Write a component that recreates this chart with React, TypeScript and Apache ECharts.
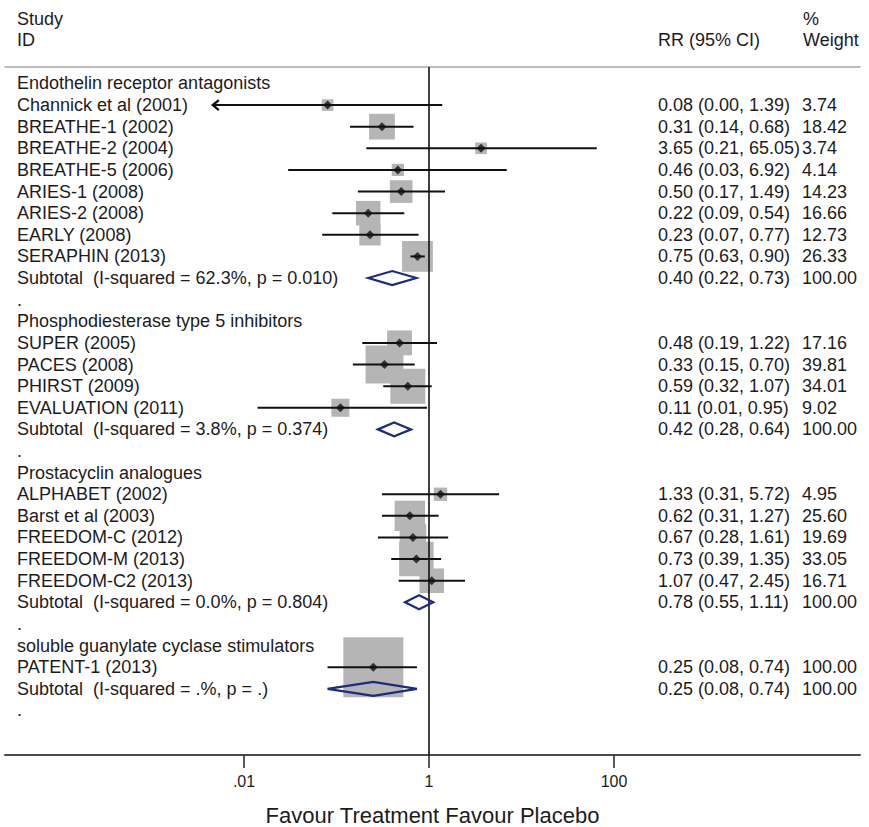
import React, { useEffect, useRef } from 'react';
import * as echarts from 'echarts';

// ---------- data ----------
const groupNames = [
  'Endothelin receptor antagonists',
  'Phosphodiesterase type 5 inhibitors',
  'Prostacyclin analogues',
  'soluble guanylate cyclase stimulators',
];

const studyNames = [
  'Channick et al (2001)', 'BREATHE-1 (2002)', 'BREATHE-2 (2004)', 'BREATHE-5 (2006)',
  'ARIES-1 (2008)', 'ARIES-2 (2008)', 'EARLY (2008)', 'SERAPHIN (2013)',
  'SUPER (2005)', 'PACES (2008)', 'PHIRST (2009)', 'EVALUATION (2011)',
  'ALPHABET (2002)', 'Barst et al (2003)', 'FREEDOM-C (2012)', 'FREEDOM-M (2013)', 'FREEDOM-C2 (2013)',
  'PATENT-1 (2013)',
];
const studyGroup = [0, 0, 0, 0, 0, 0, 0, 0, 1, 1, 1, 1, 2, 2, 2, 2, 2, 3];
const studyRR = [0.08, 0.31, 3.65, 0.46, 0.50, 0.22, 0.23, 0.75, 0.48, 0.33, 0.59, 0.11, 1.33, 0.62, 0.67, 0.73, 1.07, 0.25];
const studyLow = [0.0046, 0.14, 0.21, 0.03, 0.17, 0.09, 0.07, 0.63, 0.19, 0.15, 0.32, 0.014, 0.31, 0.31, 0.28, 0.39, 0.47, 0.08];
const studyHigh = [1.39, 0.68, 65.05, 6.92, 1.49, 0.54, 0.77, 0.90, 1.22, 0.70, 1.07, 0.95, 5.72, 1.27, 1.61, 1.35, 2.45, 0.74];
const studyWeight = [3.74, 18.42, 3.74, 4.14, 14.23, 16.66, 12.73, 26.33, 17.16, 39.81, 34.01, 9.02, 4.95, 25.60, 19.69, 33.05, 16.71, 100.00];

const subtotalLabels = [
  'Subtotal  (I-squared = 62.3%, p = 0.010)',
  'Subtotal  (I-squared = 3.8%, p = 0.374)',
  'Subtotal  (I-squared = 0.0%, p = 0.804)',
  'Subtotal  (I-squared = .%, p = .)',
];
const subRR = [0.40, 0.42, 0.78, 0.25];
const subLow = [0.22, 0.28, 0.55, 0.08];
const subHigh = [0.73, 0.64, 1.11, 0.74];
const subWeight = [100.0, 100.0, 100.0, 100.0];

const tickValues = [0.01, 1, 100];
const tickLabels = ['.01', '1', '100'];
const axisTitle = 'Favour Treatment Favour Placebo';

// ---------- layout / style ----------
const W = 869;
const H = 827;
const FONT = '"Liberation Sans", Arial, sans-serif';
const TEXT = '#1c1c1c';
const X_MIN = Math.pow(10, -4.584);
const X_MAX = Math.pow(10, 4.659);
const Y_MIN = -0.76;
const Y_MAX = 31.06;

type Row = { kind: 'header' | 'study' | 'subtotal' | 'blank'; label: string; rr?: number; lo?: number; hi?: number; w?: number };

function buildRows(): Row[] {
  const rows: Row[] = [];
  groupNames.forEach((g, gi) => {
    rows.push({ kind: 'header', label: g });
    studyNames.forEach((s, si) => {
      if (studyGroup[si] === gi) {
        rows.push({ kind: 'study', label: s, rr: studyRR[si], lo: studyLow[si], hi: studyHigh[si], w: studyWeight[si] });
      }
    });
    rows.push({ kind: 'subtotal', label: subtotalLabels[gi], rr: subRR[gi], lo: subLow[gi], hi: subHigh[gi], w: subWeight[gi] });
    rows.push({ kind: 'blank', label: '.' });
  });
  return rows;
}

export default function App() {
  const ref = useRef<HTMLDivElement>(null);

  useEffect(() => {
    if (!ref.current) return;
    const chart = echarts.init(ref.current, null, { renderer: 'svg' });
    const rows = buildRows();

    const squareData: any[] = [];
    const ciData: any[] = [];
    const pointData: any[] = [];
    const diamondData: any[] = [];
    const textData: any[] = [];
    rows.forEach((r, i) => {
      const rrText = r.rr !== undefined ? `${r.rr.toFixed(2)} (${r.lo!.toFixed(2)}, ${r.hi!.toFixed(2)})` : '';
      const wText = r.w !== undefined ? r.w.toFixed(2) : '';
      textData.push([1, i, r.label, rrText, wText]);
      if (r.kind === 'study') {
        squareData.push([r.rr, i, r.w]);
        ciData.push([r.lo, r.hi, i, r.lo!.toFixed(2) === '0.00' ? 1 : 0]);
        pointData.push([r.rr, i]);
      } else if (r.kind === 'subtotal') {
        diamondData.push([r.lo, r.rr, r.hi, i]);
      }
    });

    const fmtTick = (v: number) => {
      const k = tickValues.findIndex((t) => Math.abs(Math.log10(t) - Math.log10(v)) < 1e-6);
      return k >= 0 ? tickLabels[k] : '';
    };

    const option: any = {
      animation: false,
      backgroundColor: '#ffffff',
      grid: { left: 5, right: 9, top: 67, bottom: H - 755, containLabel: false, outerBoundsMode: 'none' },
      xAxis: [
        {
          type: 'log',
          logBase: 10,
          min: X_MIN,
          max: X_MAX,
          position: 'bottom',
          axisLine: { show: true, onZero: false, lineStyle: { color: '#4a4a4a', width: 2 } },
          axisTick: { show: true, customValues: tickValues, length: 13, lineStyle: { color: '#222', width: 1.5 } },
          axisLabel: { show: true, customValues: tickValues, formatter: fmtTick, fontSize: 16, color: TEXT, margin: 18, fontFamily: FONT },
          splitLine: { show: false },
          minorTick: { show: false },
          name: axisTitle,
          nameLocation: 'middle',
          nameGap: 49,
          nameTextStyle: { fontSize: 22, color: TEXT, fontFamily: FONT },
        },
        {
          type: 'log',
          logBase: 10,
          min: X_MIN,
          max: X_MAX,
          position: 'top',
          axisLine: { show: true, onZero: false, lineStyle: { color: '#a6a6a6', width: 1.5 } },
          axisTick: { show: false },
          axisLabel: { show: false },
          splitLine: { show: false },
        },
      ],
      yAxis: { type: 'value', inverse: true, min: Y_MIN, max: Y_MAX, show: false, splitLine: { show: false } },
      graphic: [
        { type: 'text', left: 17, top: 10, style: { text: 'Study', fontSize: 18, fontFamily: FONT, fill: TEXT } },
        { type: 'text', left: 17, top: 31, style: { text: 'ID', fontSize: 18, fontFamily: FONT, fill: TEXT } },
        { type: 'text', left: 658, top: 31, style: { text: 'RR (95% CI)', fontSize: 18, fontFamily: FONT, fill: TEXT } },
        { type: 'text', left: 803, top: 10, style: { text: '%', fontSize: 18, fontFamily: FONT, fill: TEXT } },
        { type: 'text', left: 803, top: 31, style: { text: 'Weight', fontSize: 18, fontFamily: FONT, fill: TEXT } },
      ],
      series: [
        {
          name: 'weights',
          type: 'scatter',
          data: squareData,
          symbol: 'rect',
          symbolSize: (v: number[]) => 6 * Math.sqrt(v[2]),
          itemStyle: { color: '#b5b5b5', opacity: 1 },
          z: 1,
          silent: true,
          markLine: {
            silent: true,
            symbol: ['none', 'none'],
            label: { show: false },
            lineStyle: { color: '#111', width: 1.6, type: 'solid' },
            data: [{ xAxis: 1 }],
            z: 5,
          },
        },
        {
          name: 'ci',
          type: 'custom',
          data: ciData,
          encode: { x: [0, 1], y: 2 },
          z: 3,
          silent: true,
          renderItem: (params: any, api: any) => {
            const row = api.value(2);
            const p1 = api.coord([api.value(0), row]);
            const p2 = api.coord([api.value(1), row]);
            const children: any[] = [
              { type: 'line', shape: { x1: p1[0], y1: p1[1], x2: p2[0], y2: p2[1] }, style: { stroke: '#111', lineWidth: 2 } },
            ];
            if (api.value(3) === 1) {
              children.push({
                type: 'polyline',
                shape: { points: [[p1[0] + 6, p1[1] - 5], [p1[0], p1[1]], [p1[0] + 6, p1[1] + 5]] },
                style: { stroke: '#111', lineWidth: 2.4, fill: 'none' },
              });
            }
            return { type: 'group', children };
          },
        },
        {
          name: 'points',
          type: 'scatter',
          data: pointData,
          symbol: 'diamond',
          symbolSize: 9,
          itemStyle: { color: '#111' },
          z: 4,
          silent: true,
        },
        {
          name: 'subtotals',
          type: 'custom',
          data: diamondData,
          encode: { x: [0, 1, 2], y: 3 },
          z: 5,
          silent: true,
          renderItem: (params: any, api: any) => {
            const row = api.value(3);
            const a = api.coord([api.value(0), row]);
            const m = api.coord([api.value(1), row]);
            const b = api.coord([api.value(2), row]);
            const h = 7;
            return {
              type: 'polygon',
              shape: { points: [[a[0], a[1]], [m[0], m[1] - h], [b[0], b[1]], [m[0], m[1] + h]] },
              style: { stroke: '#1d2a7e', lineWidth: 2.2, fill: 'none' },
            };
          },
        },
        {
          name: 'rowText',
          type: 'custom',
          data: textData,
          encode: { x: 0, y: 1 },
          z: 6,
          silent: true,
          renderItem: (params: any, api: any) => {
            const idx = params.dataIndex;
            const d = textData[idx];
            const y = api.coord([1, d[1]])[1];
            const mk = (x: number, text: string) => ({
              type: 'text',
              x,
              y,
              style: { text, fill: TEXT, fontSize: 18, fontFamily: FONT, verticalAlign: 'middle', align: 'left' },
            });
            return { type: 'group', children: [mk(17, d[2]), mk(658, d[3]), mk(802, d[4])] };
          },
        },
      ],
    };

    chart.setOption(option);
    return () => chart.dispose();
  }, []);

  return <div ref={ref} style={{ position: 'absolute', left: 0, top: 0, width: W, height: H, background: '#fff' }} />;
}
